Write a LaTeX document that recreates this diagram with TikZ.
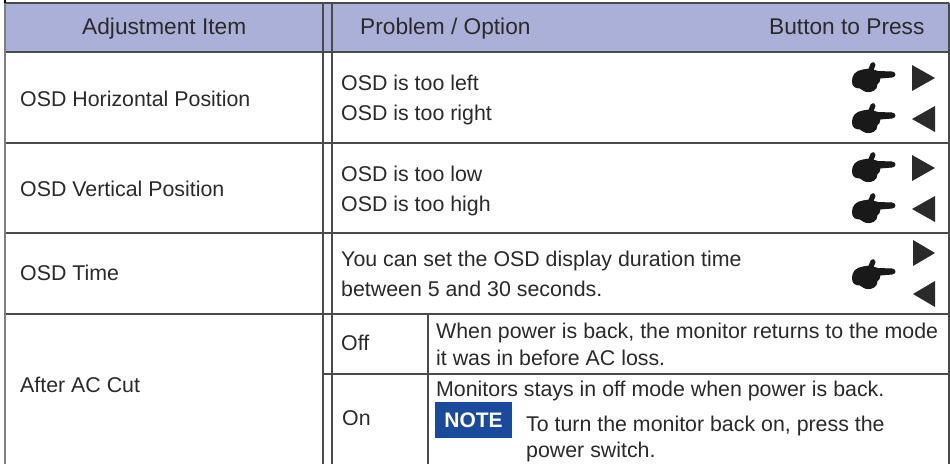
\documentclass[tikz,border=0pt]{standalone}
\usepackage{fontspec}
\setmainfont{Liberation Sans}
\definecolor{headfill}{HTML}{ABB0D8}
\definecolor{rule}{HTML}{4A4A4A}
\definecolor{ink}{HTML}{2A2A2A}
\definecolor{notefill}{HTML}{1A4A9C}
\tikzset{
  txt/.style={anchor=base west,inner sep=0pt,text=ink,font=\fontsize{21.35}{24}\selectfont},
  headtxt/.style={anchor=base west,inner sep=0pt,text=ink,font=\fontsize{22.7}{24}\selectfont},
  tline/.style={draw=rule,line width=1.5pt},
  tri/.style={fill=ink,draw=none},
  hand/.pic={
    \fill[black!90,draw=black!90,line width=1pt,line join=round] (-21.5,3) .. controls (-21.5,-3) and (-18,-7) .. (-11,-8)
      -- (-5,-9) -- (-3,-14) .. controls (-1,-16) and (1,-15.5) .. (1,-13) -- (-1,-8)
      -- (4,-6.5) -- (18,-6) .. controls (22,-5.5) and (22,-1.5) .. (18,-1) -- (6,0)
      -- (5,4) -- (3,6) -- (2,10) -- (0,12) .. controls (-3,14) and (-8,14) .. (-10,12.5)
      -- (-14,10) .. controls (-19,10) and (-21.5,8) .. (-21.5,3) -- cycle;
  }
}
\begin{document}
\begin{tikzpicture}[x=1pt,y=-1pt]
\useasboundingbox (0,0) rectangle (950,464);
\fill[white] (0,0) rectangle (950,464);
% header band
\fill[headfill] (5,3) rectangle (949,52);
% horizontal rules
\draw[tline] (5,3) -- (949,3);
\draw[tline] (5,52) -- (949,52);
\draw[tline] (5,143) -- (949,143);
\draw[tline] (5,233) -- (949,233);
\draw[tline] (5,314) -- (949,314);
\draw[tline] (323,374) -- (949,374);
% vertical rules
\draw[tline,draw=black] (5,0) -- (5,3);
\draw[tline,draw=gray] (5,3) -- (5,464);
\draw[tline] (949,3) -- (949,464);
\draw[tline] (323,3) -- (323,464);
\draw[tline] (332,3) -- (332,464);
\draw[tline] (428,314) -- (428,464);
% header
\node[headtxt] (h1) at (82,34) {Adjustment Item};
\node[headtxt] (h2) at (360,34) {Problem / Option};
\node[headtxt] (h3) at (769,34) {Button to Press};
% left column
\node[txt] (a1) at (20,106) {OSD Horizontal Position};
\node[txt] (a2) at (20,196) {OSD Vertical Position};
\node[txt] (a3) at (20,280) {OSD Time};
\node[txt] (a4) at (20,392) {After AC Cut};
% problems
\node[txt] (p1) at (341,90) {OSD is too left};
\node[txt] (p2) at (341,120) {OSD is too right};
\node[txt] (p3) at (341,181) {OSD is too low};
\node[txt] (p4) at (341,211) {OSD is too high};
\node[txt] (p5) at (341,266) {You can set the OSD display duration time};
\node[txt] (p6) at (341,296) {between 5 and 30 seconds.};
\node[txt] (o1) at (341,350) {Off};
\node[txt] (o2) at (342,425) {On};
\node[txt] (d1) at (436,338) {When power is back, the monitor returns to the mode};
\node[txt] (d2) at (436,365) {it was in before AC loss.};
\node[txt] (d3) at (436,396) {Monitors stays in off mode when power is back.};
\node[txt] (d4) at (526,431) {To turn the monitor back on, press the};
\node[txt] (d5) at (526,457) {power switch.};
% note badge
\node[fill=notefill,draw=none,minimum width=77pt,minimum height=36pt,inner sep=0pt,text=white,font=\fontsize{21}{24}\selectfont\bfseries] (note) at (473.5,420) {\raisebox{-1pt}{NOTE}};
% hands and triangles
\pic at (874,78) {hand};
\pic at (874,119) {hand};
\pic at (874,168) {hand};
\pic at (874,209) {hand};
\pic at (874,275) {hand};
\fill[tri] (912,65) -- (935,78) -- (912,91) -- cycle;
\fill[tri] (935,106) -- (912,119) -- (935,132) -- cycle;
\fill[tri] (912,155) -- (935,168) -- (912,181) -- cycle;
\fill[tri] (935,196) -- (912,209) -- (935,222) -- cycle;
\fill[tri] (913,240) -- (935,253) -- (913,266) -- cycle;
\fill[tri] (935,281) -- (913,294) -- (935,307) -- cycle;
\end{tikzpicture}
\end{document}
